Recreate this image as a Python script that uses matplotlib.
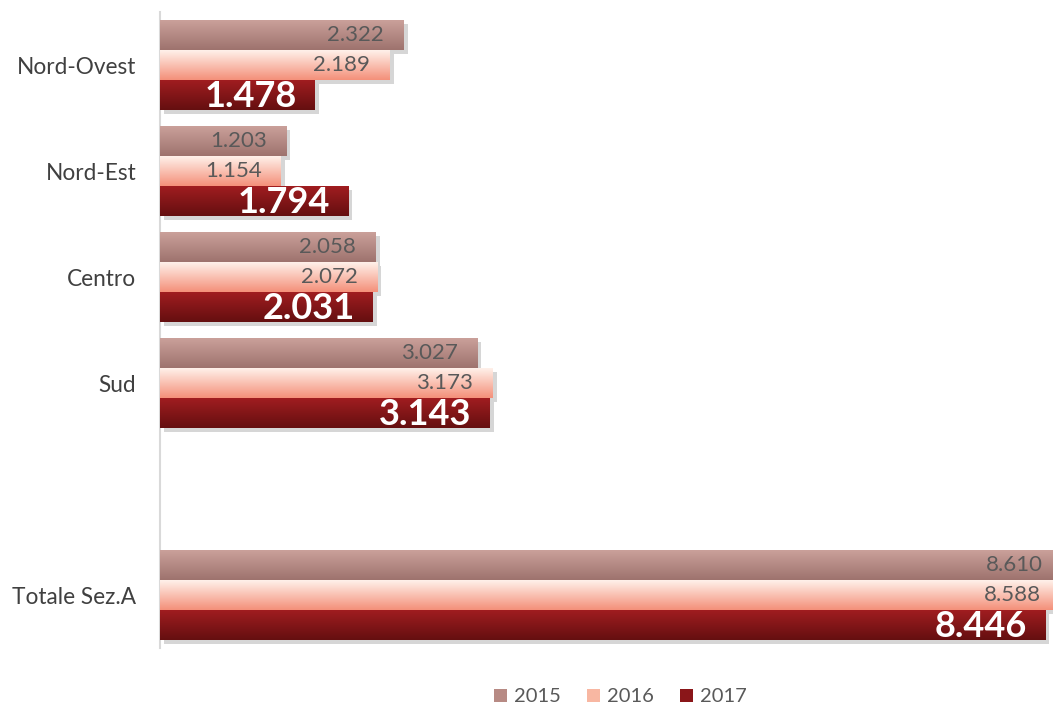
import matplotlib.pyplot as plt
import matplotlib.patheffects as pe
from matplotlib.colors import LinearSegmentedColormap
from matplotlib.patches import Patch
import numpy as np

categories = ['Nord-Ovest', 'Nord-Est', 'Centro', 'Sud', '', 'Totale Sez.A']
years = ['2015', '2016', '2017']
v2015 = [2.322, 1.203, 2.058, 3.027, None, 8.610]
v2016 = [2.189, 1.154, 2.072, 3.173, None, 8.588]
v2017 = [1.478, 1.794, 2.031, 3.143, None, 8.446]

grads = [('#caa09a', '#9e736e'), ('#fff1ea', '#f4907a'), ('#a01d20', '#650f10')]
mids = ['#b78a84', '#f8b7a2', '#8a1619']

plt.rcParams['font.family'] = ['Lato', 'DejaVu Sans']
fig = plt.figure(figsize=(10.53, 7.08), dpi=100)
ax = fig.add_axes([160 / 1053, 60 / 708, 1 - 160 / 1053, 636 / 708])

h = 0.28
offs = [-0.283, 0, 0.283]
series = [v2015, v2016, v2017]
for k, vals in enumerate(series):
    ys = [i + offs[k] for i, v in enumerate(vals) if v is not None]
    xs = [v for v in vals if v is not None]
    bars = ax.barh(ys, xs, height=h, color=mids[k], zorder=2,
                   path_effects=[pe.SimplePatchShadow(offset=(3, -3), shadow_rgbFace='#999999', alpha=0.4), pe.Normal()])
    cmap = LinearSegmentedColormap.from_list('g%d' % k, [grads[k][0], grads[k][1]])
    grad = np.linspace(0, 1, 64).reshape(-1, 1)
    for b in bars:
        x0, y0 = b.get_x(), b.get_y()
        im = ax.imshow(grad, cmap=cmap, extent=(x0, x0 + b.get_width(), y0 + b.get_height(), y0),
                       aspect='auto', zorder=3, interpolation='bicubic')
        im.set_clip_path(b)
    for y, x in zip(ys, xs):
        lab = '{:.3f}'.format(x)
        if k == 2:
            ax.annotate(lab, (x, y), xytext=(-13, -1), textcoords='offset points', ha='right', va='center',
                        color='white', fontsize=26, fontweight='bold', zorder=5, annotation_clip=False)
        else:
            ax.annotate(lab, (x, y), xytext=(-14, 0), textcoords='offset points', ha='right', va='center',
                        color='#595959', fontsize=16, zorder=5, annotation_clip=False)

ax.set_xlim(0, 8.52)
ax.set_ylim(5.5, -0.5)
ax.set_yticks(range(len(categories)))
ax.set_yticklabels(categories, fontsize=16.3, color='#404040')
ax.tick_params(axis='y', length=0, pad=17)
ax.set_xticks([])
for s in ['top', 'right', 'bottom']:
    ax.spines[s].set_visible(False)
ax.spines['left'].set_color('#d9d9d9')
ax.spines['left'].set_linewidth(1.5)

handles = [Patch(facecolor=mids[k], label=years[k]) for k in range(3)]
fig.legend(handles=handles, loc='lower center', bbox_to_anchor=(0.589, -0.022), ncol=3, frameon=False,
           fontsize=14.5, labelcolor='#595959', handlelength=0.65, handleheight=0.65, handletextpad=0.35,
           columnspacing=1.3)

fig.savefig('out.png', dpi=100)
